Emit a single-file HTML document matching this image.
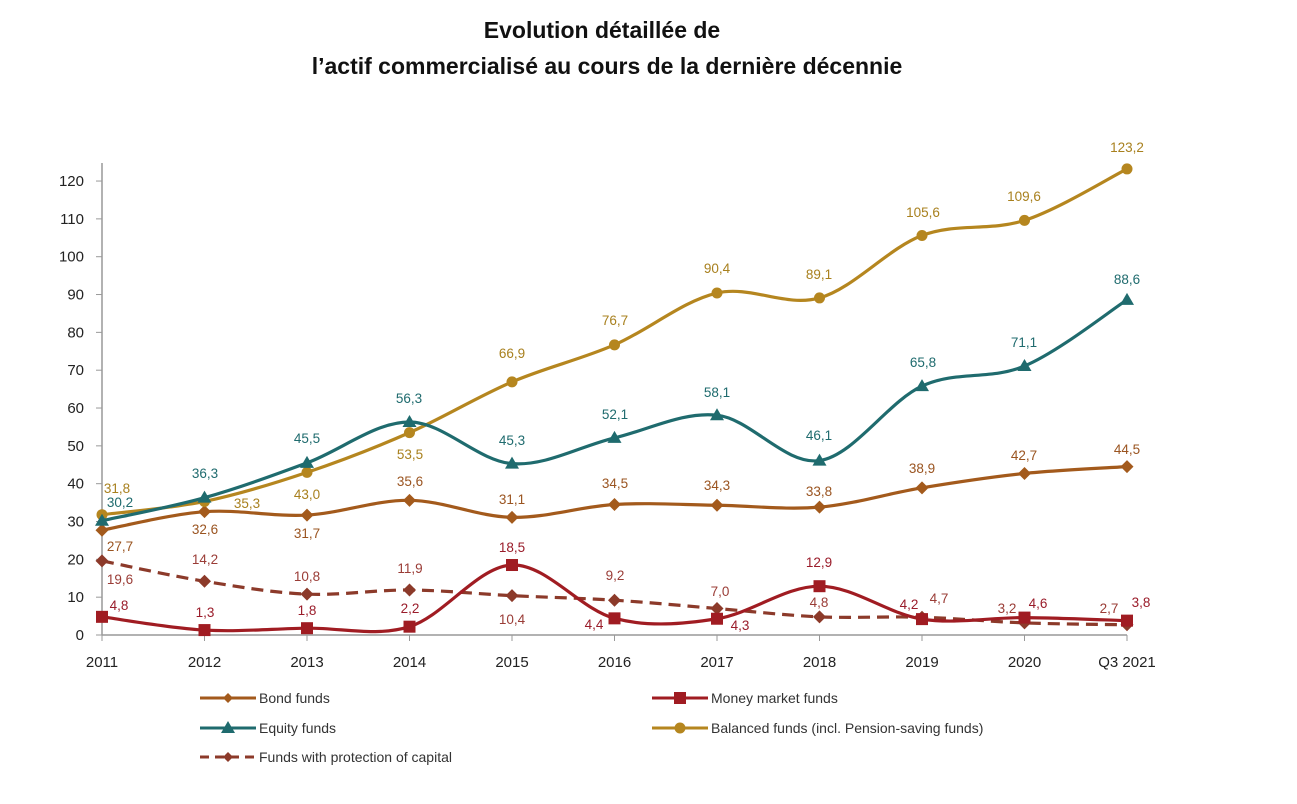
<!DOCTYPE html>
<html><head><meta charset="utf-8"><style>
body{margin:0;background:#fff;width:1297px;height:799px;overflow:hidden}
svg{font-family:"Liberation Sans","DejaVu Sans",sans-serif}
</style></head><body>
<svg id="s" width="1297" height="799" xmlns="http://www.w3.org/2000/svg">
<text x="602" y="38" text-anchor="middle" font-size="23" font-weight="bold" fill="#111">Evolution détaillée de</text>
<text x="607" y="74" text-anchor="middle" font-size="23" font-weight="bold" fill="#111">l’actif commercialisé au cours de la dernière décennie</text>
<g id="g"></g>
</svg>
<script>
const NS="http://www.w3.org/2000/svg",g=document.getElementById('g');
function el(t,a,txt){const e=document.createElementNS(NS,t);for(const k in a)e.setAttribute(k,a[k]);if(txt!=null)e.textContent=txt;g.appendChild(e);return e;}
const X=i=>102+i*102.5, Y=v=>635-v*3.783;
el('line',{x1:102,y1:163,x2:102,y2:635,stroke:'#999','stroke-width':1.5});
el('line',{x1:102,y1:635,x2:1127,y2:635,stroke:'#999','stroke-width':1.5});
for(let v=0;v<=120;v+=10){el('line',{x1:96,x2:102,y1:Y(v),y2:Y(v),stroke:'#999'});el('text',{x:84,y:Y(v)+5,'text-anchor':'end','font-size':15,fill:'#222'},v);}
const xl=['2011','2012','2013','2014','2015','2016','2017','2018','2019','2020','Q3 2021'];
xl.forEach((l,i)=>{el('line',{x1:X(i),x2:X(i),y1:635,y2:641,stroke:'#999'});el('text',{x:X(i),y:667,'text-anchor':'middle','font-size':15,fill:'#222'},l);});
function path(d){const p=d.map((v,i)=>[X(i),Y(v)]);let s=`M${p[0][0]},${p[0][1]}`;
for(let i=0;i<p.length-1;i++){const a=p[Math.max(i-1,0)],b=p[i],c=p[i+1],e=p[Math.min(i+2,p.length-1)],t=6;
s+=` C${b[0]+(c[0]-a[0])/t},${b[1]+(c[1]-a[1])/t} ${c[0]-(e[0]-b[0])/t},${c[1]-(e[1]-b[1])/t} ${c[0]},${c[1]}`;}return s;}
function mk(type,x,y,c,sz){if(type=='d')el('path',{d:`M${x},${y-sz}L${x+sz},${y}L${x},${y+sz}L${x-sz},${y}Z`,fill:c});
else if(type=='s')el('rect',{x:x-6,y:y-6,width:12,height:12,fill:c});
else if(type=='t')el('path',{d:`M${x},${y-7}L${x+7},${y+5}L${x-7},${y+5}Z`,fill:c});
else el('circle',{cx:x,cy:y,r:5.5,fill:c});}
const S=[
{d:[27.7,32.6,31.7,35.6,31.1,34.5,34.3,33.8,38.9,42.7,44.5],c:'#a35a1c',lc:'#9a5420',m:'d',
 L:[[120,551],[205,534],[307,538],[410,486],[512,504],[615,488],[717,490],[819,496],[922,473],[1024,460],[1127,454]]},
{d:[31.8,35.3,43.0,53.5,66.9,76.7,90.4,89.1,105.6,109.6,123.2],c:'#b5861f',lc:'#a8801e',m:'c',
 L:[[117,493],[247,508],[307,499],[410,459],[512,358],[615,325],[717,273],[819,279],[923,217],[1024,201],[1127,152]]},
{d:[30.2,36.3,45.5,56.3,45.3,52.1,58.1,46.1,65.8,71.1,88.6],c:'#1f6b6e',lc:'#1f6b6e',m:'t',
 L:[[120,507],[205,478],[307,443],[409,403],[512,445],[615,419],[717,397],[819,440],[923,367],[1024,347],[1127,284]]},
{d:[19.6,14.2,10.8,11.9,10.4,9.2,7.0,4.8,4.7,3.2,2.7],c:'#8c3a2a',lc:'#9a3c36',m:'d',dash:true,
 L:[[120,584],[205,564],[307,581],[410,573],[512,624],[615,580],[720,596],[819,607],[939,603],[1007,613],[1109,613]]},
{d:[4.8,1.3,1.8,2.2,18.5,4.4,4.3,12.9,4.2,4.6,3.8],c:'#a01c22',lc:'#9a1c2a',m:'s',
 L:[[119,610],[205,617],[307,615],[410,613],[512,552],[594,629],[740,630],[819,567],[909,609],[1038,608],[1141,607]]}
];
S.forEach(s=>{el('path',{d:path(s.d),fill:'none',stroke:s.c,'stroke-width':3.2,'stroke-dasharray':s.dash?'12 7':'none'});
s.d.forEach((v,i)=>mk(s.m,X(i),Y(v),s.c,6.5));
s.d.forEach((v,i)=>el('text',{x:s.L[i][0],y:s.L[i][1],'text-anchor':'middle','font-size':13.5,fill:s.lc},v.toFixed(1).replace('.',',')));});
function leg(x,y,c,m,t,dash){el('line',{x1:x,x2:x+56,y1:y,y2:y,stroke:c,'stroke-width':3,'stroke-dasharray':dash?'9 6':'none'});mk(m,x+28,y,c,5);
el('text',{x:x+59,y:y+5,'font-size':14,fill:'#333'},t);}
leg(200,698,'#a35a1c','d','Bond funds');
leg(200,728,'#1f6b6e','t','Equity funds');
leg(200,757,'#8c3a2a','d','Funds with protection of capital',true);
leg(652,698,'#a01c22','s','Money market funds');
leg(652,728,'#b5861f','c','Balanced funds (incl. Pension-saving funds)');
</script>
</body></html>
